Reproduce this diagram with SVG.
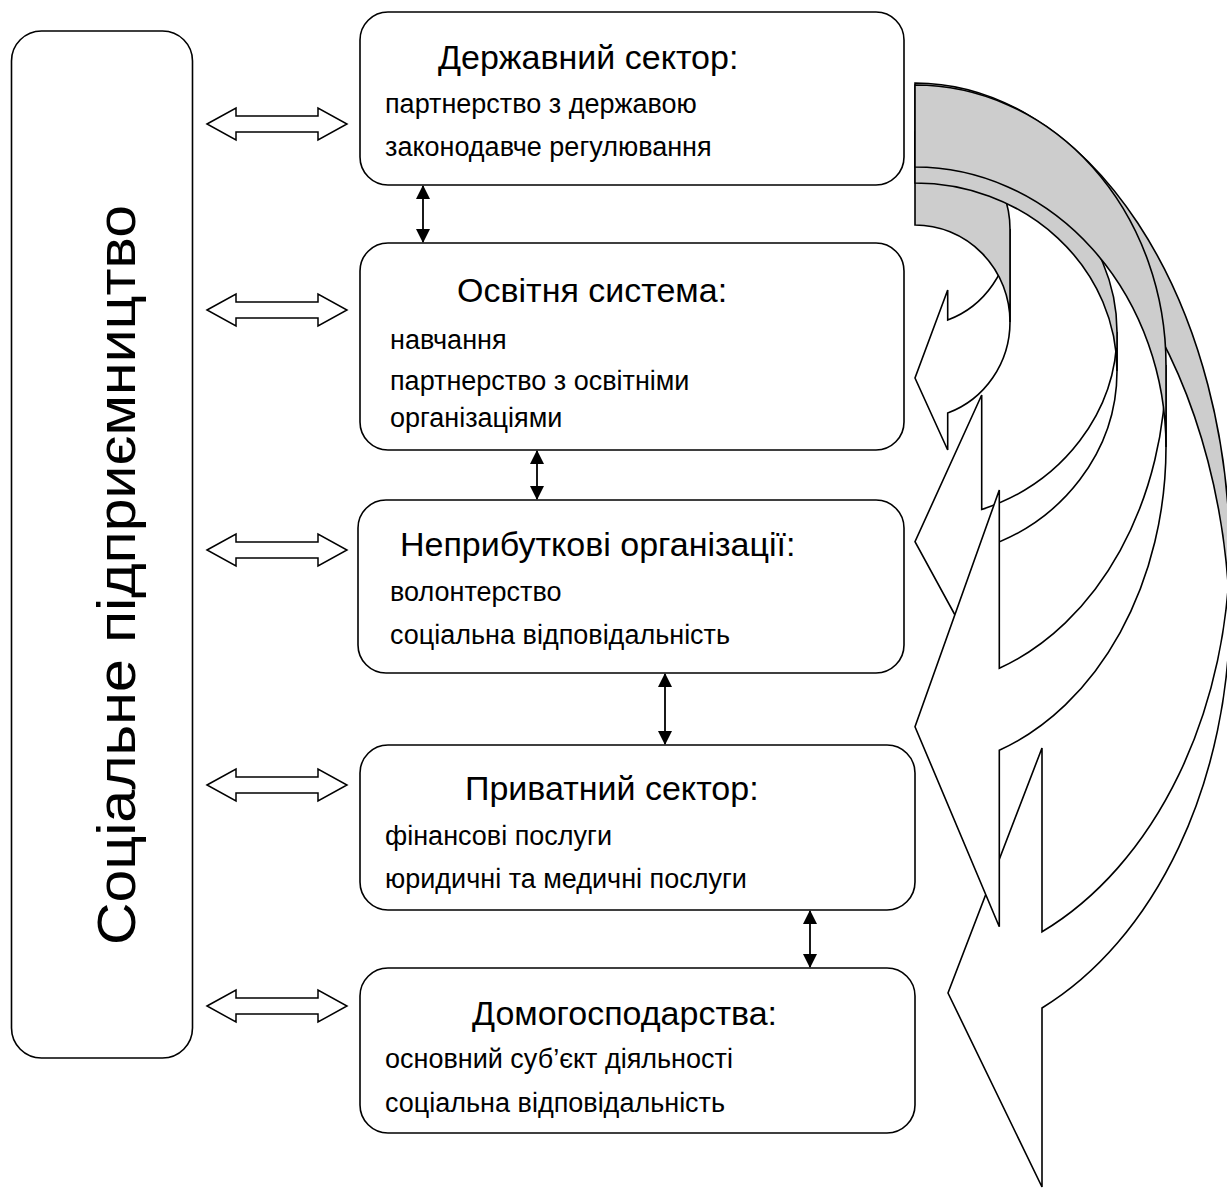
<svg xmlns="http://www.w3.org/2000/svg" width="1227" height="1189" viewBox="0 0 1227 1189">
<style>
.box{fill:#fff;stroke:#000;stroke-width:1.6}
.t{font-family:"Liberation Sans",Arial,sans-serif;fill:#000}
.title{font-size:34px}
.body{font-size:27px}
.ha{fill:#fff;stroke:#000;stroke-width:1.5}
.vl{stroke:#000;stroke-width:1.8;fill:none}
.front{fill:#fff;stroke:#000;stroke-width:1.6;stroke-linejoin:miter}
.back{fill:#cdcdcd;stroke:#000;stroke-width:1.6;stroke-linejoin:miter}
</style>
<defs>
<path id="dbl" d="M207,0 L236,-16 L236,-8 L318,-8 L318,-16 L347,0 L318,16 L318,8 L236,8 L236,16 Z"/>
<marker id="ah" viewBox="0 0 14 14" refX="13" refY="7" markerWidth="14" markerHeight="14" markerUnits="userSpaceOnUse" orient="auto-start-reverse">
<path d="M0,0 L14,7 L0,14 Z" fill="#000"/>
</marker>
</defs>

<g id="curved-arrows">
<g id="arrow4">
<path class="front" d="M1230,542 A315,426 0 0 1 1042,931.8 L1042,748 L948,993 L1042,1187 L1042,1008 A315,436 0 0 0 1230,609 Z"/>
<path class="back" d="M915,83 A315,478 0 0 1 1230,561 L1230,637 A315,478 0 0 0 915,159 Z"/>
</g>
<g id="arrow1">
<path class="front" d="M1010,229 A95,97 0 0 1 947.7,320.1 L947.7,290 L915,378 L947.7,450 L947.7,413.1 A95,97 0 0 0 1010,322 Z"/>
<path class="back" d="M915,132 A95,97 0 0 1 1010,229 L1010,322 A95,97 0 0 0 915,225 Z"/>
</g>
<g id="arrow2">
<path class="front" d="M1117,332 A202,188 0 0 1 981.7,509.5 L981.7,395 L915,541.7 L981.7,664 L981.7,548.5 A202,188 0 0 0 1117,371 Z"/>
<path class="back" d="M915,144 A202,188 0 0 1 1117,332 L1117,371 A202,188 0 0 0 915,183 Z"/>
</g>
<g id="arrow3">
<path class="front" d="M1166,365 A251,322 0 0 1 999.3,668.3 L999.3,490 L915,726.7 L999.3,926.7 L999.3,750.3 A251,322 0 0 0 1166,447 Z"/>
<path class="back" d="M915,85 A251,280 0 0 1 1166,365 L1166,447 A251,280 0 0 0 915,167 Z"/>
</g>
</g>

<g id="node-social">
<rect class="box" x="11.5" y="31" width="181" height="1027" rx="30"/>
<text class="t" font-size="54" text-anchor="middle" textLength="740" lengthAdjust="spacingAndGlyphs" transform="translate(135,575) rotate(-90)">Соціальне підприємництво</text>
</g>

<g id="node-state">
<rect class="box" x="360" y="12" width="544" height="173" rx="28"/>
<text class="t title" x="438" y="69">Державний сектор:</text>
<text class="t body" x="385" y="113">партнерство з державою</text>
<text class="t body" x="385" y="156">законодавче регулювання</text>
</g>

<g id="node-education">
<rect class="box" x="360" y="243" width="544" height="207" rx="28"/>
<text class="t title" x="457" y="302">Освітня система:</text>
<text class="t body" x="390" y="349">навчання</text>
<text class="t body" x="390" y="390">партнерство з освітніми</text>
<text class="t body" x="390" y="427">організаціями</text>
</g>

<g id="node-nonprofit">
<rect class="box" x="358" y="500" width="546" height="173" rx="28"/>
<text class="t title" x="400" y="556">Неприбуткові організації:</text>
<text class="t body" x="390" y="601">волонтерство</text>
<text class="t body" x="390" y="644">соціальна відповідальність</text>
</g>

<g id="node-private">
<rect class="box" x="360" y="745" width="555" height="165" rx="28"/>
<text class="t title" x="465" y="800">Приватний сектор:</text>
<text class="t body" x="385" y="845">фінансові послуги</text>
<text class="t body" x="385" y="888">юридичні та медичні послуги</text>
</g>

<g id="node-households">
<rect class="box" x="360" y="968" width="555" height="165" rx="28"/>
<text class="t title" x="472" y="1025">Домогосподарства:</text>
<text class="t body" x="385" y="1068">основний суб’єкт діяльності</text>
<text class="t body" x="385" y="1112">соціальна відповідальність</text>
</g>

<g id="connectors">
<use href="#dbl" class="ha" transform="translate(0,124)"/>
<use href="#dbl" class="ha" transform="translate(0,310)"/>
<use href="#dbl" class="ha" transform="translate(0,550)"/>
<use href="#dbl" class="ha" transform="translate(0,785)"/>
<use href="#dbl" class="ha" transform="translate(0,1006)"/>
<line class="vl" x1="423" y1="186" x2="423" y2="242" marker-start="url(#ah)" marker-end="url(#ah)"/>
<line class="vl" x1="537" y1="451" x2="537" y2="499" marker-start="url(#ah)" marker-end="url(#ah)"/>
<line class="vl" x1="665" y1="674" x2="665" y2="744" marker-start="url(#ah)" marker-end="url(#ah)"/>
<line class="vl" x1="810" y1="911" x2="810" y2="967" marker-start="url(#ah)" marker-end="url(#ah)"/>
</g>
</svg>
